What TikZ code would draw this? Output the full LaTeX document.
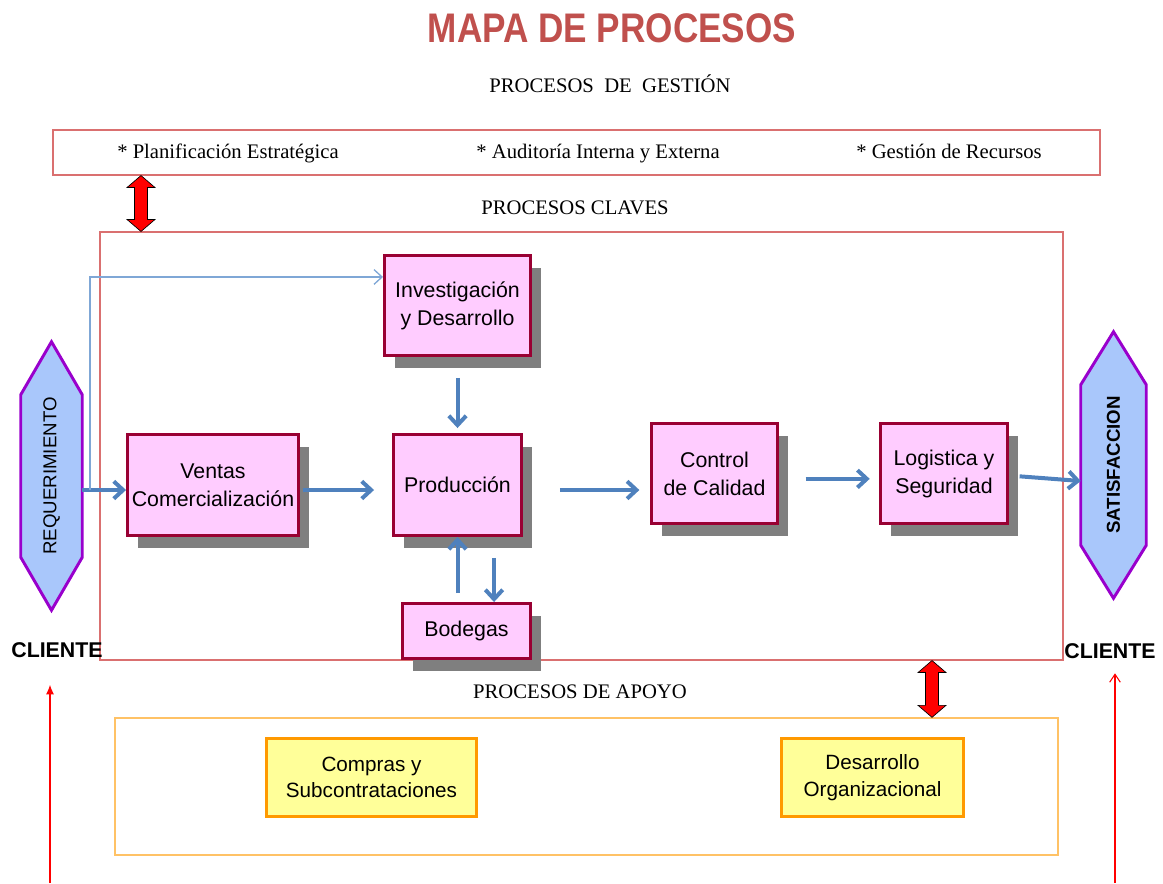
\documentclass[tikz,border=0pt]{standalone}
\usepackage{graphicx}
\usepackage{fontspec}
\setmainfont{Liberation Serif}
\newfontfamily\arialfont{Liberation Sans}
\usetikzlibrary{positioning, arrows.meta, calc, shadows}

\definecolor{titlered}{HTML}{C0504D}
\definecolor{boxpink}{HTML}{FFCCFF}
\definecolor{boxborder}{HTML}{990033}
\definecolor{shadowgray}{HTML}{7F7F7F}
\definecolor{flowblue}{HTML}{4F81BD}
\definecolor{feedblue}{HTML}{7FA7D6}
\definecolor{framered}{HTML}{DA7070}
\definecolor{frameorange}{HTML}{FFC266}
\definecolor{boxyellow}{HTML}{FFFF99}
\definecolor{boxorange}{HTML}{FF9900}
\definecolor{hexblue}{HTML}{A9C7FB}
\definecolor{hexpurple}{HTML}{9900CC}

\newcommand{\PxUnit}{0.75pt}

\begin{document}
\begin{tikzpicture}[
    x=0.75pt, y=-0.75pt,
    every node/.style={font=\fontsize{15.5}{18}\selectfont},
    proc/.style={rectangle, draw=boxborder, fill=boxpink, line width=2.2pt, inner sep=0pt, align=center,
        font=\arialfont\fontsize{16}{21}\selectfont,
        drop shadow={shadow xshift=7.5pt, shadow yshift=-9pt, fill=shadowgray, opacity=1}},
    support/.style={rectangle, draw=boxorange, fill=boxyellow, line width=2.2pt, inner sep=0pt, align=center,
        font=\arialfont\fontsize{15.5}{20}\selectfont},
    frame/.style={rectangle, draw=framered, line width=0.8pt, inner sep=0pt},
    hexline/.style={draw=hexpurple, fill=hexblue, line width=2.2pt, line join=miter},
    hexbox/.style={rectangle, inner sep=0pt},
    client/.style={font=\arialfont\bfseries\fontsize{16}{18}\selectfont},
    flow/.style={-{Straight Barb[length=7pt, width=13pt]}, draw=flowblue, line width=3pt},
    feed/.style={-{Straight Barb[length=6pt, width=11pt]}, draw=feedblue, line width=1pt},
    bigarrow/.style={draw=black, fill=red, line width=0.5pt, line join=miter},
    inarrow/.style={draw=red, line width=0.8pt}
]
\useasboundingbox (0,0) rectangle (1163,883);

% Title and headings
\node[font=\arialfont\bfseries\fontsize{31}{34}\selectfont, text=titlered] (title) at (612,28) {\scalebox{0.85}[1]{MAPA DE PROCESOS}};
\node (h-gest) at (610,84) {PROCESOS\ \ DE\ \ GESTIÓN};
\node (h-clave) at (575,208) {PROCESOS CLAVES};
\node (h-apoyo) at (580,692) {PROCESOS DE APOYO};

% Frames for the three process groups
\node[frame, minimum width=1047*\PxUnit, minimum height=45*\PxUnit] (gest) at (576.5,152.5) {};
\node[frame, minimum width=963*\PxUnit, minimum height=428*\PxUnit] (clave) at (581.5,446) {};
\node[frame, draw=frameorange, line width=1pt, minimum width=943*\PxUnit, minimum height=137*\PxUnit] (apoyo) at (586.5,786.5) {};

% Management items
\foreach \name/\cx/\txt in {plan/228/{* Planificación Estratégica}, audi/598/{* Auditoría Interna y Externa}, recu/949/{* Gestión de Recursos}}{
    \node[anchor=base] (\name) at (\cx,158) {\txt};
}

% Client hexagons
\node[hexbox, minimum width=61*\PxUnit, minimum height=268*\PxUnit] (req) at (51.5,476) {};
\node[hexbox, minimum width=65*\PxUnit, minimum height=266*\PxUnit] (sat) at (1113.5,465) {};
\foreach \h in {req, sat}{
    \draw[hexline] (\h.north) -- ($(\h.north east)+(0,53)$) -- ($(\h.south east)+(0,-53)$)
        -- (\h.south) -- ($(\h.south west)+(0,-53)$) -- ($(\h.north west)+(0,53)$) -- cycle;
}
\node[font=\arialfont\fontsize{14}{16}\selectfont, rotate=90] (req-txt) at (req) {REQUERIMIENTO};
\node[font=\arialfont\bfseries\fontsize{14}{16}\selectfont, rotate=90] (sat-txt) at (sat) {SATISFACCION};

\node[client] (cl-l) at (57,650) {CLIENTE};
\node[client] (cl-r) at (1110,651) {CLIENTE};

% Key processes
\node[proc, minimum width=146*\PxUnit, minimum height=100*\PxUnit] (inv) at (457.5,305.5) {Investigación\\y Desarrollo};
\node[proc, minimum width=171*\PxUnit, minimum height=101*\PxUnit] (ven) at (213,485) {Ventas\\Comercialización};
\node[proc, minimum width=128*\PxUnit, minimum height=101*\PxUnit] (pro) at (457.5,485) {Producción};
\node[proc, minimum width=128*\PxUnit, minimum height=55*\PxUnit] (bod) at (466.5,631) {Bodegas};
\node[proc, minimum width=126*\PxUnit, minimum height=100*\PxUnit] (con) at (714.5,473.5) {Control\\de Calidad};
\node[proc, minimum width=127*\PxUnit, minimum height=100*\PxUnit] (log) at (944,473.5) {Logistica y\\Seguridad};

% Support processes
\node[support, minimum width=210*\PxUnit, minimum height=78*\PxUnit] (com) at (371.5,777.5) {Compras y\\Subcontrataciones};
\node[support, minimum width=182*\PxUnit, minimum height=78*\PxUnit] (des) at (872.5,777.5) {Desarrollo\\Organizacional};

% Main flow
\coordinate (split) at (90,490);
\draw[flow] (req.east |- split) -- (ven.west |- split);
\draw[feed] (split) |- ([yshift=21.4pt]inv.west);
\draw[flow, shorten <=2pt, shorten >=13.5pt] (ven.east |- split) -- (pro.west |- split);
\draw[flow, shorten <=15.75pt, shorten >=3.75pt] (inv.south) -- (pro.north);
\draw[flow, shorten <=6.75pt] (pro.south |- bod.north) -- (pro.south);
\draw[flow, shorten <=15.75pt] ([xshift=27.4pt]pro.south) -- ([xshift=27.4pt]pro.south |- bod.north);
\draw[flow, shorten <=27.75pt, shorten >=8pt] (pro.east |- split) -- (con.west |- split);
\draw[flow, shorten <=20pt, shorten >=7pt] ([yshift=-4pt]con.east) -- ([yshift=-4pt]log.west);
\draw[flow, shorten <=8pt] ([yshift=-1.5pt]log.east) -- ([yshift=-12pt]sat.west);

% Links between process groups
\foreach \cx/\up/\down in {141/gest/clave, 932/clave/apoyo}{
    \coordinate (tmp) at (\cx,0);
    \draw[bigarrow] (tmp |- \up.south) -- ++(14,12) -- ++(-7.5,0) -- ($(tmp |- \down.north)+(6.5,-12)$)
        -- ++(7.5,0) -- (tmp |- \down.north) -- ++(-14,-12) -- ++(7.5,0)
        -- ($(tmp |- \up.south)+(-6.5,12)$) -- ++(-7.5,0) -- cycle;
}

% Client arrows
\coordinate (in-l) at (50,883);
\coordinate (in-r) at (1115,883);
\draw[inarrow, -{Latex[length=7pt, width=6pt]}, shorten >=17pt] (in-l) -- (in-l |- cl-l.south);
\draw[inarrow, -{Straight Barb[length=6pt, width=8pt]}, shorten >=7.5pt] (in-r) -- (in-r |- cl-r.south);

\end{tikzpicture}
\end{document}
